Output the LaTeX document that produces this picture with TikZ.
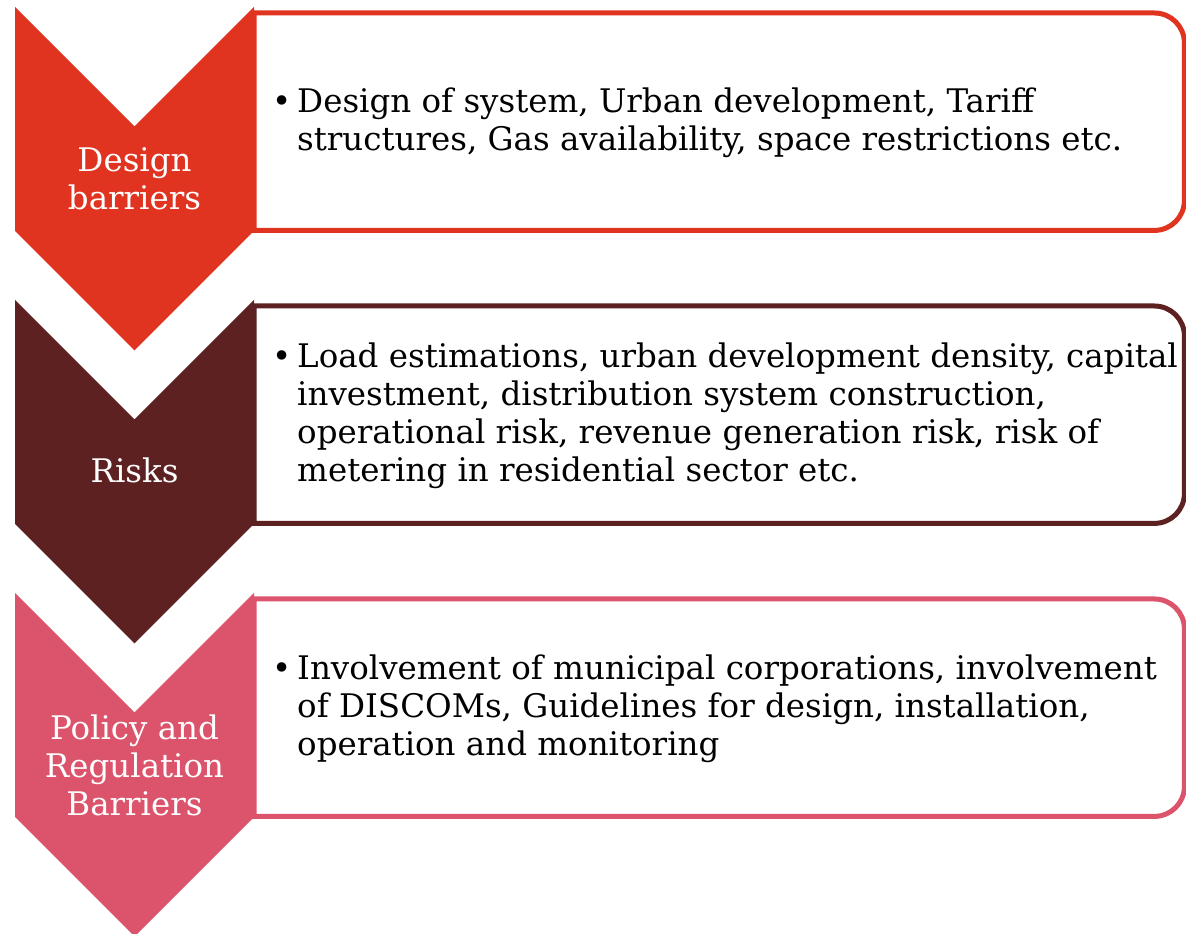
\documentclass[tikz,border=0pt]{standalone}
\usepackage{fontspec}
\setmainfont{DejaVu Serif}
\usepackage{tikz}
\usetikzlibrary{positioning}

\definecolor{barred}{HTML}{E03320}
\definecolor{barbrown}{HTML}{5E2121}
\definecolor{barpink}{HTML}{DB546C}

\begin{document}
\begin{tikzpicture}[x=1pt, y=1pt, every node/.style={
    rectangle,
    inner sep=0pt,
    font=\fontsize{32.5}{38}\selectfont,
  },
  boxline/.style={line width=5pt},
  lbl/.style={text=white, align=center}]

  \useasboundingbox (0,0) rectangle (1186,934);

  % text boxes
  \node[minimum width=930pt, minimum height=217pt, anchor=north west] (box1) at (254,921) {};
  \node[minimum width=930pt, minimum height=217pt, anchor=north west] (box2) at (254,628) {};
  \node[minimum width=930pt, minimum height=217pt, anchor=north west] (box3) at (254,335) {};

  \draw[boxline, draw=barred] (box1.north west) -- ([xshift=-30pt]box1.north east)
    arc[start angle=90, end angle=0, radius=30pt] -- ([yshift=30pt]box1.south east)
    arc[start angle=0, end angle=-90, radius=30pt] -- (box1.south west) -- cycle;
  \draw[boxline, draw=barbrown] (box2.north west) -- ([xshift=-30pt]box2.north east)
    arc[start angle=90, end angle=0, radius=30pt] -- ([yshift=30pt]box2.south east)
    arc[start angle=0, end angle=-90, radius=30pt] -- (box2.south west) -- cycle;
  \draw[boxline, draw=barpink] (box3.north west) -- ([xshift=-30pt]box3.north east)
    arc[start angle=90, end angle=0, radius=30pt] -- ([yshift=30pt]box3.south east)
    arc[start angle=0, end angle=-90, radius=30pt] -- (box3.south west) -- cycle;

  % chevrons
  \fill[barred] (15,927) -- (134.5,807.5) -- (254,927) -- (254,703) -- (134.5,583.5) -- (15,703) -- cycle;
  \fill[barbrown] (15,634) -- (134.5,514.5) -- (254,634) -- (254,410) -- (134.5,290.5) -- (15,410) -- cycle;
  \fill[barpink] (15,341) -- (134.5,221.5) -- (254,341) -- (254,117) -- (134.5,-2.5) -- (15,117) -- cycle;

  \node[lbl] (lab1) at (134.5,755) {Design\\barriers};
  \node[lbl] (lab2) at (134.5,464) {Risks};
  \node[lbl] (lab3) at (134.5,169) {Policy and\\Regulation\\Barriers};

  % bullet texts
  \node[right=18pt of box1.west, yshift=-2pt] (txt1) {\begin{tabular}{@{}p{25pt}@{}l@{}}
    \textbullet & Design of system, Urban development, Tariff\\
    & structures, Gas availability, space restrictions etc.
    \end{tabular}};
  \node[right=18pt of box2.west, yshift=-2pt] (txt2) {\begin{tabular}{@{}p{25pt}@{}l@{}}
    \textbullet & Load estimations, urban development density, capital\\
    & investment, distribution system construction,\\
    & operational risk, revenue generation risk, risk of\\
    & metering in residential sector etc.
    \end{tabular}};
  \node[right=18pt of box3.west, yshift=-2pt] (txt3) {\begin{tabular}{@{}p{25pt}@{}l@{}}
    \textbullet & Involvement of municipal corporations, involvement\\
    & of DISCOMs, Guidelines for design, installation,\\
    & operation and monitoring
    \end{tabular}};

\end{tikzpicture}
\end{document}
